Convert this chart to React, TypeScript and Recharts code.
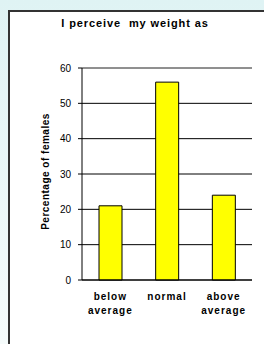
import React from 'react';
import { BarChart, Bar, XAxis, YAxis, CartesianGrid, ReferenceLine } from 'recharts';

const categories = ['below average', 'normal', 'above average'];
const categoryLines = [['below', 'average'], ['normal'], ['above', 'average']];
const femalesPct = [21, 56, 24];
const yTicks = [0, 10, 20, 30, 40, 50, 60];
const boundTicks = [0, 1, 2, 3];

const data = categories.map((c, i) => ({ name: c, lines: categoryLines[i], value: femalesPct[i] }));

const FONT = '"Liberation Sans", Arial, sans-serif';

const CategoryTick = (props: any) => {
  const { x, y, index } = props;
  const lines = categoryLines[index] || [];
  return (
    <text x={x} y={y} textAnchor="middle" fontFamily={FONT} fontSize={10} fontWeight="bold" fill="#000" letterSpacing={1}>
      {lines.map((l, i) => (
        <tspan key={i} x={x} dy={i === 0 ? 19 : 14}>{l}</tspan>
      ))}
    </text>
  );
};

const ValueTick = (props: any) => {
  const { x, y, payload } = props;
  return (
    <text x={x} y={y} textAnchor="end" dominantBaseline="central" fontFamily={FONT} fontSize={10} fill="#000">
      {payload.value}
    </text>
  );
};

const YLabel = (props: any) => {
  const vb = props.viewBox || { x: 0, y: 0, width: 0, height: 0 };
  const cx = vb.x + 9.5;
  const cy = vb.y + vb.height / 2 - 2.5;
  return (
    <text
      x={cx}
      y={cy}
      transform={`rotate(-90, ${cx}, ${cy})`}
      textAnchor="middle"
      dominantBaseline="central"
      fontFamily={FONT}
      fontSize={10}
      fontWeight="bold"
      letterSpacing={0.5}
      fill="#000"
    >
      Percentage of females
    </text>
  );
};

export default function App() {
  return (
    <div
      style={{
        position: 'absolute',
        left: 0,
        top: 0,
        width: 264,
        height: 344,
        overflow: 'hidden',
        background: 'linear-gradient(to bottom, #dff3f4, #f5fbfb)',
      }}
    >
      <div
        style={{
          position: 'absolute',
          left: 8,
          top: 10,
          right: 0,
          bottom: 0,
          background: '#fff',
          borderLeft: '2px solid #333',
          borderTop: '2px solid #333',
        }}
      />
      <svg width={264} height={344} style={{ position: 'absolute', left: 0, top: 0 }}>
        <text
          x={135}
          y={26.5}
          textAnchor="middle"
          fontFamily={FONT}
          fontSize={11}
          fontWeight="bold"
          letterSpacing={0.9}
          fill="#000"
          style={{ whiteSpace: 'pre' }}
        >
          I perceive  my weight as
        </text>
      </svg>
      <div style={{ position: 'absolute', left: 0, top: 0 }}>
        <BarChart
          width={264}
          height={344}
          data={data}
          margin={{ top: 68, right: 12, bottom: 0, left: 36 }}
        >
          <XAxis
            xAxisId="bounds"
            type="number"
            domain={[0, 3]}
            ticks={boundTicks}
            tick={false}
            tickSize={5}
            height={1}
            axisLine={{ stroke: '#000' }}
            tickLine={{ stroke: '#000' }}
          />
          <XAxis
            xAxisId="cat"
            dataKey="name"
            height={63}
            axisLine={false}
            tickLine={false}
            tickSize={0}
            tickMargin={0}
            interval={0}
            tick={<CategoryTick />}
          />
          <YAxis
            domain={[0, 60]}
            ticks={yTicks}
            width={46}
            interval={0}
            tickSize={4}
            tickMargin={7}
            axisLine={{ stroke: '#000' }}
            tickLine={{ stroke: '#000' }}
            tick={<ValueTick />}
            label={<YLabel />}
          />
          <CartesianGrid xAxisId="cat" horizontal vertical={false} stroke="#000" />
          <ReferenceLine xAxisId="cat" y={60} stroke="#a0a0a0" />
          <ReferenceLine xAxisId="bounds" x={3} stroke="#a0a0a0" />
          <Bar xAxisId="cat" dataKey="value" barSize={23} fill="#ffff00" stroke="#000" strokeWidth={1} isAnimationActive={false} />
        </BarChart>
      </div>
    </div>
  );
}
